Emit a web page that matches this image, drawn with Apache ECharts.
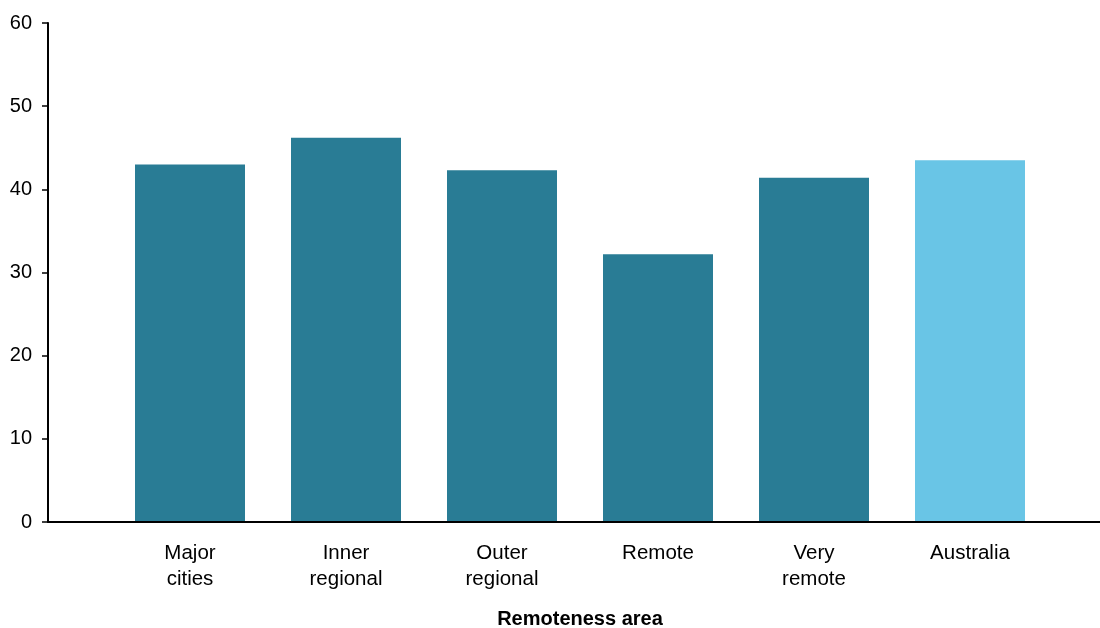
<!DOCTYPE html>
<html>
<head>
<meta charset="utf-8">
<script src="https://cdn.jsdelivr.net/npm/echarts@6/dist/echarts.min.js"></script>
<style>html,body{margin:0;padding:0;background:#fff}#c{width:1100px;height:628px}</style>
</head>
<body>
<div id="c"></div>
<script>
const categories = ['Major\ncities', 'Inner\nregional', 'Outer\nregional', 'Remote', 'Very\nremote', 'Australia'];
const values = [43.0, 46.2, 42.3, 32.2, 41.4, 43.5];
const barColors = ['#297c95', '#297c95', '#297c95', '#297c95', '#297c95', '#69c5e6'];
const yTicks = [0, 10, 20, 30, 40, 50, 60];

const chart = echarts.init(document.getElementById('c'));
const font = 'Liberation Sans, Arial, sans-serif';
chart.setOption({
  animation: false,
  grid: [
    { left: 48, right: 0, top: 23, bottom: 106, containLabel: false, outerBoundsMode: 'none' },
    { left: 112, right: 52, top: 23, bottom: 106, containLabel: false, outerBoundsMode: 'none' }
  ],
  xAxis: [
    { gridIndex: 0, type: 'category', data: [''], z: 5, axisLine: { lineStyle: { color: '#000', width: 2 } },
      axisTick: { show: false }, axisLabel: { show: false }, splitLine: { show: false } },
    { gridIndex: 1, type: 'category', data: categories, axisLine: { show: false }, axisTick: { show: false },
      axisLabel: { color: '#000', fontSize: 20.5, fontFamily: font, margin: 18, lineHeight: 26 },
      name: 'Remoteness area', nameLocation: 'middle', nameGap: 87,
      nameTextStyle: { color: '#000', fontSize: 20, fontWeight: 'bold', fontFamily: font } }
  ],
  yAxis: [
    { gridIndex: 0, type: 'value', min: yTicks[0], max: yTicks[yTicks.length - 1], interval: 10,
      axisLine: { show: true, lineStyle: { color: '#000', width: 2 } },
      axisTick: { show: true, length: 6, lineStyle: { color: '#000', width: 1.5 } },
      axisLabel: { color: '#000', fontSize: 20, fontFamily: font, margin: 16 },
      splitLine: { show: false } },
    { gridIndex: 1, type: 'value', min: 0, max: 60, show: false, splitLine: { show: false } }
  ],
  series: [{
    type: 'bar', xAxisIndex: 1, yAxisIndex: 1, barWidth: 110,
    data: values.map((v, i) => ({ value: v, itemStyle: { color: barColors[i] } }))
  }]
});
</script>
</body>
</html>
